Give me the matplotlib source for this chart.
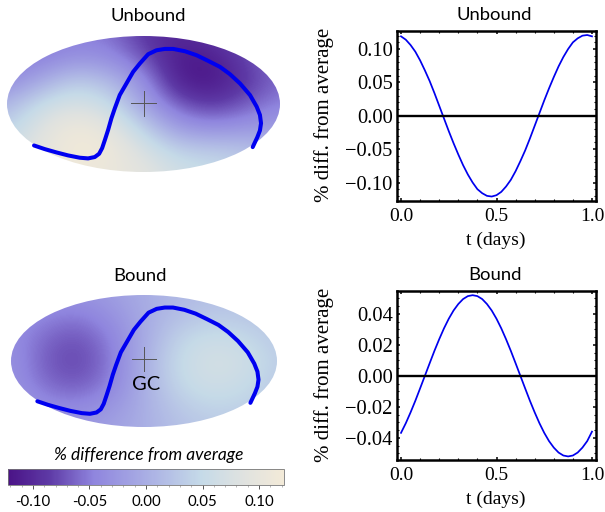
import numpy as np
import matplotlib
matplotlib.use("Agg")
import matplotlib.pyplot as plt
from matplotlib.colors import LinearSegmentedColormap, Normalize
from matplotlib.cm import ScalarMappable
from matplotlib.patches import Ellipse
from matplotlib.ticker import FixedLocator, MultipleLocator

unbound_map = [
    [-.055, -.055, -.05, -.055, -.09, -.105, -.09, -.07, -.06],
    [-.05, -.05, -.03, -.035, -.07, -.115, -.115, -.08, -.055],
    [-.04, -.005, .035, .015, -.035, -.11, -.12, -.09, -.06],
    [.005, .055, .075, .055, -.015, -.07, -.09, -.07, -.045],
    [.035, .085, .115, .095, .035, -.025, -.04, -.03, -.02],
    [.06, .095, .12, .115, .075, .035, .03, .025, .005],
    [.08, .10, .115, .105, .095, .065, .055, .04, .02],
]
bound_map = [
    [-.03, -.03, -.03, -.02, .0, .01, .02, .02, .02],
    [-.035, -.045, -.055, -.035, -.005, .02, .03, .03, .02],
    [-.035, -.062, -.075, -.05, -.005, .04, .06, .05, .03],
    [-.03, -.068, -.082, -.055, .0, .05, .07, .065, .035],
    [-.03, -.06, -.072, -.05, .0, .045, .065, .055, .03],
    [-.02, -.04, -.045, -.03, .0, .03, .045, .04, .03],
    [-.015, -.025, -.025, -.015, .0, .02, .03, .03, .02],
]
# plane read as (lon, lat) on the unit ellipse, in thousandths
plane_lon = [-802, -724, -638, -553, -467, -406, -357, -325, -303, -281, -259, -235, -210, -174, -125, -76, -27, 34, 95, 156, 218, 303, 389, 474, 560, 633, 707, 780, 829, 853, 861, 853, 834, 800]
plane_lat = [-610, -663, -712, -756, -790, -800, -780, -732, -649, -517, -380, -210, -63, 132, 302, 473, 595, 732, 790, 810, 810, 776, 717, 634, 546, 439, 302, 132, -39, -161, -283, -390, -488, -634]
gc_unbound = (0.0, 0.01)
gc_bound = (0.0, 0.035)

t = np.arange(41) / 40
unbound_curve = [.119, .114, .106, .096, .083, .068, .052, .034, .015, -.004, -.023, -.041, -.058, -.074, -.088, -.100, -.110, -.116, -.120, -.121,
                 -.119, -.114, -.106, -.096, -.083, -.068, -.052, -.034, -.015, .004, .023, .041, .058, .074, .088, .100, .110, .116, .120, .121, .119]
bound_curve = [-.0368, -.0306, -.0236, -.0161, -.0081, .0, .0081, .0161, .0236, .0306, .0368, .0421, .0463, .0495, .0514, .052, .0514, .0495, .0463, .0421,
               .0368, .0306, .0236, .0161, .0081, .0, -.0081, -.0161, -.0236, -.0306, -.0368, -.0421, -.0463, -.0495, -.0514, -.052, -.0514, -.0495, -.0463, -.0421, -.036]

colors = [(0, "#4a1386"), (.15, "#5e3aa6"), (.31, "#8f85de"), (.5, "#a9aee4"), (.7, "#c5dae8"), (.85, "#dfe2e0"), (1, "#f3ead8")]
cmap = LinearSegmentedColormap.from_list("sky", colors)
norm = Normalize(-.122, .122)

W, H = 605, 512
fig = plt.figure(figsize=(W / 100, H / 100), dpi=100)
SERIF = "Liberation Serif"
SANS = "Lato"


def box(x0, y0, x1, y1):
    return [x0 / W, 1 - y1 / H, (x1 - x0) / W, (y1 - y0) / H]


def sky(rect, vals, gc, title, title_x, title_y):
    ax = fig.add_axes(box(*rect))
    im = ax.imshow(np.array(vals, float), extent=(-1.125, 1.125, -1.167, 1.167), cmap=cmap, norm=norm,
                   interpolation="bicubic", origin="upper", aspect="auto")
    ax.set_xlim(-1, 1)
    ax.set_ylim(-1, 1)
    clip = Ellipse((0, 0), 2, 2, transform=ax.transData)
    im.set_clip_path(clip)
    ax.axis("off")
    ax.plot(np.array(plane_lon) / 1000, np.array(plane_lat) / 1000, color="#0000f0", lw=2.9,
            solid_capstyle="round", solid_joinstyle="round")
    ax.plot([gc[0] - .09, gc[0] + .09], [gc[1]] * 2, color="#555555", lw=.7)
    ax.plot([gc[0]] * 2, [gc[1] - .18, gc[1] + .18], color="#555555", lw=.7)
    fig.text(title_x / W, 1 - title_y / H, title, family=SANS, fontsize=13.3, ha="center", va="center", color="black")
    return ax


sky((7, 36, 280, 172), unbound_map, gc_unbound, "Unbound", 148, 16)
ax_b = sky((11, 295, 277, 427), bound_map, gc_bound, "Bound", 140, 276)
fig.text(146 / W, 1 - 384 / H, "GC", family=SANS, fontsize=14.5, ha="center", va="center")


def curve(rect, y, ylim, yticks, minor, title, title_x, title_y):
    ax = fig.add_axes(box(*rect))
    ax.plot(t, y, color="#0000ee", lw=1.25)
    ax.axhline(0, color="black", lw=1.7)
    ax.set_xlim(-.021, 1.021)
    ax.set_ylim(*ylim)
    ax.xaxis.set_major_locator(FixedLocator([0, .5, 1]))
    ax.xaxis.set_minor_locator(MultipleLocator(.1))
    ax.yaxis.set_major_locator(FixedLocator(yticks))
    ax.yaxis.set_minor_locator(MultipleLocator(minor))
    ax.tick_params(which="major", direction="in", top=True, right=True, length=2.2, width=1.1)
    ax.tick_params(which="minor", direction="in", top=True, right=True, length=1.2, width=.8)
    ax.tick_params(axis="y", which="major", pad=3)
    ax.tick_params(axis="x", which="major", pad=5)
    ax.set_xticklabels(["0.0", "0.5", "1.0"], family=SERIF, fontsize=14)
    ax.set_yticklabels([("%.2f" % v).replace("-", "\u2212") for v in yticks], family=SERIF, fontsize=14.8)
    for s in ax.spines.values():
        s.set_linewidth(1.8)
    fig.text(496 / W, 1 - (rect[3] + 39) / H, "t (days)", family=SERIF, fontsize=14, ha="center", va="center")
    fig.text(title_x / W, 1 - title_y / H, title, family=SANS, fontsize=13.3, ha="center", va="center")
    return ax


ax1 = curve((397, 31, 596, 201), unbound_curve, (-.1277, .127), [-.1, -.05, 0, .05, .1], .01, "Unbound", 494, 15)
ax2 = curve((397, 291, 596, 460), bound_curve, (-.0543, .0547), [-.04, -.02, 0, .02, .04], .005, "Bound", 495, 275)
for s_y, ylab in ((115, "% diff. from average"), (375, "% diff. from average")):
    fig.text(324 / W, 1 - s_y / H, ylab, family=SERIF, fontsize=15, rotation=90, ha="center", va="center")

cax = fig.add_axes(box(8, 469, 284, 485))
cb = fig.colorbar(ScalarMappable(norm=norm, cmap=cmap), cax=cax, orientation="horizontal")
cb.set_ticks([-.1, -.05, 0, .05, .1])
cb.set_ticklabels(["-0.10", "-0.05", "0.00", "0.05", "0.10"], family=SANS, fontsize=10.8)
cax.xaxis.set_minor_locator(MultipleLocator(.01))
cax.tick_params(which="major", direction="out", length=3, width=.7, pad=4, color="#555555", bottom=True)
cax.tick_params(which="minor", direction="out", length=1.5, width=.5, color="#999999", bottom=True)
cb.outline.set_linewidth(.6)
cb.outline.set_edgecolor("#777777")
fig.text(149 / W, 1 - 455 / H, "% difference from average", family=SANS, style="italic", fontsize=12.5, ha="center", va="center")

fig.savefig("out.png", dpi=100)
